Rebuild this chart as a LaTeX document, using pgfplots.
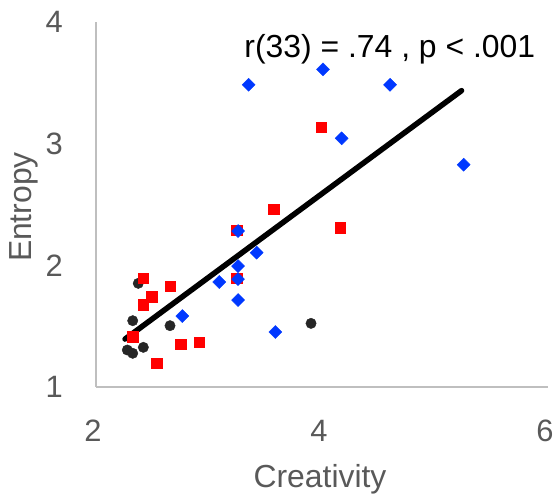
\documentclass[border=0pt]{standalone}
\usepackage{fontspec}
\setmainfont{Liberation Sans}
\usepackage{pgfplots}
\pgfplotsset{compat=1.18}
\definecolor{tickgray}{HTML}{595959}
\definecolor{axgray}{HTML}{BFBFBF}
\definecolor{ptblue}{RGB}{0,56,255}
\definecolor{ptblack}{HTML}{262626}
\begin{document}
\begin{tikzpicture}
\begin{axis}[
  name=ax,
  scale only axis,
  width=452bp, height=365bp,
  xmin=2, xmax=6, ymin=1, ymax=4,
  xtick={2,4,6}, ytick={1,2,3,4},
  axis x line*=bottom, axis y line*=left,
  axis line style={draw=axgray, line width=1.6bp},
  major tick length=0pt,
  /pgf/number format/assume math mode=true,
  ticklabel style={font=\fontsize{31}{35}\selectfont, text=tickgray},
  xticklabel style={anchor=base, yshift=-54bp, xshift=-3bp},
  yticklabel style={anchor=east, inner sep=0pt, xshift=-33bp},
  xlabel={Creativity},
  ylabel={Entropy},
  label style={font=\fontsize{32}{36}\selectfont, text=tickgray},
  xlabel style={at={(axis description cs:0.4956,-0.2767)}, anchor=base},
  ylabel style={at={(axis description cs:-0.1593,0.493)}, anchor=center},
  clip=false,
]
\addplot[only marks, mark=*, mark size=5.2bp, color=ptblack] coordinates {
(2.374,1.852) (2.325,1.545) (2.655,1.504) (2.277,1.304) (2.325,1.277) (2.419,1.326) (3.903,1.523)
};
\addplot[only marks, mark=square*, mark size=5.2bp, color=red] coordinates {
(2.419,1.896) (2.655,1.830) (2.493,1.742) (2.419,1.676) (2.325,1.413) (2.750,1.353) (2.914,1.370) (2.537,1.195)
(3.245,2.290) (3.245,1.893) (3.573,2.463) (3.991,3.136) (4.159,2.309)
};
\addplot[only marks, mark=square*, mark size=4.6bp, mark options={rotate=45}, color=ptblue] coordinates {
(3.257,2.282) (3.422,2.104) (3.257,1.994) (3.091,1.863) (3.257,1.887) (3.257,1.715) (2.764,1.583) (3.587,1.452)
(3.351,3.484) (4.009,3.611) (4.602,3.484) (4.174,3.044) (5.254,2.827)
};
\addplot[black, line width=5.5bp, line cap=round] coordinates {(2.257,1.394) (5.235,3.436)};
\node[anchor=base, font=\fontsize{32}{36}\selectfont, text=black] at (rel axis cs:0.650,0.904) {r(33) = .74 , p < .001};
\end{axis}
\pgfresetboundingbox
\path ([shift={(-96bp,-110bp)}]ax.south west) rectangle ([shift={(6bp,22bp)}]ax.north east);
\end{tikzpicture}
\end{document}
